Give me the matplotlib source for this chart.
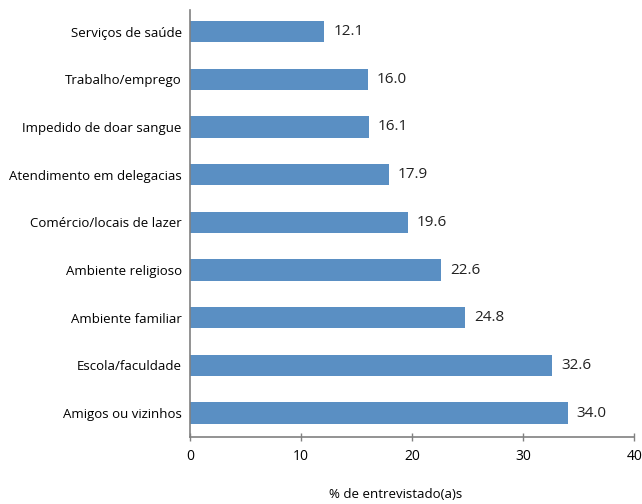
import matplotlib
matplotlib.use('Agg')
import matplotlib.pyplot as plt

categories = ['Amigos ou vizinhos', 'Escola/faculdade', 'Ambiente familiar',
              'Ambiente religioso', 'Comércio/locais de lazer',
              'Atendimento em delegacias', 'Impedido de doar sangue',
              'Trabalho/emprego', 'Serviços de saúde']
values = [34.0, 32.6, 24.8, 22.6, 19.6, 17.9, 16.1, 16.0, 12.1]
xticks = [0, 10, 20, 30, 40]

plt.rcParams['font.family'] = ['Open Sans', 'DejaVu Sans']

fig = plt.figure(figsize=(6.42, 5.04), dpi=100)
ax = fig.add_axes([0.296, 0.133, 0.692, 0.847])

pos = range(len(categories))
ax.barh(pos, values, height=0.45, color='#5a8fc3')
for y, v in zip(pos, values):
    ax.text(v + 0.8, y, f'{v:.1f}', va='center', ha='left', fontsize=11, color='#222222')

ax.set_xlim(0, 40)
ax.set_ylim(-0.5, 8.45)
ax.set_xticks(xticks)
ax.set_yticks(list(pos))
ax.set_yticklabels(categories, fontsize=9.5)
ax.tick_params(axis='x', direction='inout', length=6, width=1, color='#808080',
               labelsize=10, pad=6)
ax.tick_params(axis='y', length=0, pad=6)
for s in ['top', 'right']:
    ax.spines[s].set_visible(False)
for s in ['left', 'bottom']:
    ax.spines[s].set_color('#808080')
    ax.spines[s].set_linewidth(1.2)

fig.text(0.617, 0.018, '% de entrevistado(a)s', ha='center',
         va='center', fontsize=9.5)

fig.savefig('out.png', dpi=100)
